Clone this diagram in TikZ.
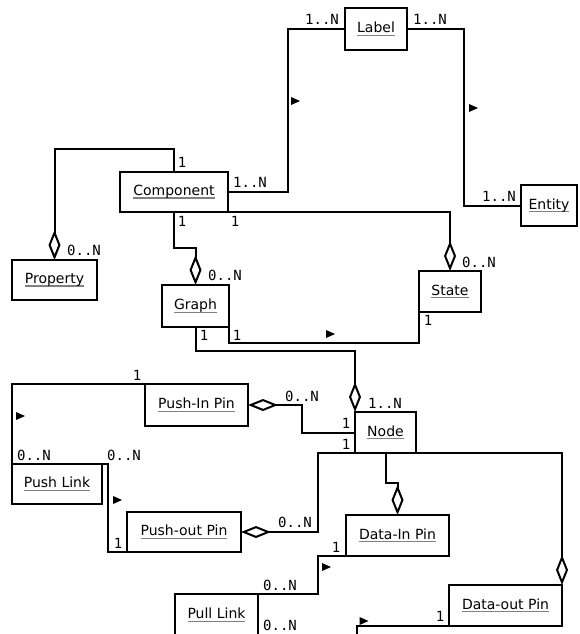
\documentclass[tikz,border=0pt]{standalone}
\usepackage{fontspec}
\setmainfont{DejaVu Sans}
\setmonofont{DejaVu Sans Mono}
\usetikzlibrary{arrows.meta}
\newcommand{\ulbox}[1]{\setbox0\hbox{#1}\leavevmode\rlap{\textcolor{gray}{\rule[-3pt]{\wd0}{1.2pt}}}\box0}
\newcommand{\dirtri}[1]{\fill[shift={(#1)}] (-4.5,-4) -- (4.5,0) -- (-4.5,4) -- cycle;}
\tikzset{
  cls/.style={draw, line width=2pt, inner sep=0pt, outer sep=0pt, font=\fontsize{14}{16}\selectfont},
  link/.style={line width=2pt},
  agg/.style={-{Diamond[open,length=30pt,width=12pt]}},
  aggs/.style={{Diamond[open,length=30pt,width=12pt]}-},
  mult/.style={font=\ttfamily\fontsize{14}{16}\selectfont, inner sep=0pt}
}
\begin{document}
\begin{tikzpicture}[x=1pt,y=-1pt]
\useasboundingbox (0,0) rectangle (580,634);
\clip (0,0) rectangle (580,634);
% classes
\node[cls, minimum width=62pt, minimum height=42pt] (label) at (376,29) {\ulbox{Label}};
\node[cls, minimum width=108pt, minimum height=40pt] (component) at (174,192) {\ulbox{Component}};
\node[cls, minimum width=85pt, minimum height=40pt] (property) at (54.5,280) {\ulbox{Property}};
\node[cls, minimum width=67pt, minimum height=42pt] (graph) at (195.5,306) {\ulbox{Graph}};
\node[cls, minimum width=62pt, minimum height=41pt] (state) at (450,291.5) {\ulbox{State}};
\node[cls, minimum width=56pt, minimum height=41pt] (entity) at (549,205.5) {\ulbox{Entity}};
\node[cls, minimum width=103pt, minimum height=42pt] (pushin) at (196.5,405) {\ulbox{Push-In Pin}};
\node[cls, minimum width=61pt, minimum height=41pt] (nodeb) at (385.5,432.5) {\ulbox{Node}};
\node[cls, minimum width=90pt, minimum height=40pt] (pushlink) at (57,484) {\ulbox{Push Link}};
\node[cls, minimum width=114pt, minimum height=40pt] (pushout) at (184,532) {\ulbox{Push-out Pin}};
\node[cls, minimum width=103pt, minimum height=41pt] (datain) at (397.5,535.5) {\ulbox{Data-In Pin}};
\node[cls, minimum width=113pt, minimum height=41pt] (dataout) at (505.5,605.5) {\ulbox{Data-out Pin}};
\node[cls, minimum width=83pt, minimum height=42pt] (pulllink) at (216.5,615) {\ulbox{Pull Link}};
\coordinate (offb) at (357,660);
% connectors
\draw[link] (component.east) -- ++(60,0) |- (label.west);
\draw[link] (label.east) -- ++(57,0) |- (entity.west);
\draw[link,agg] (component.north) -- ++(0,-23) -| (property.north);
\draw[link,agg] (component.south) -- ++(0,36) -| (graph.north);
\draw[link,agg] (component.south east) -| (state.north);
\draw[link] (graph.south east) -- ++(0,16) -| (state.south west);
\draw[link,agg] (graph.south) -- ++(0,24) -| (nodeb.north west);
\draw[link,aggs] (pushin.east) -- ++(54,0) |- (nodeb.west);
\draw[link] (pushin.north west) -| (pushlink.north west);
\draw[link] (pushlink.north east) -- ++(6,0) |- (pushout.south west);
\draw[link,aggs] (pushout.east) -- ++(77,0) |- (nodeb.south west);
\draw[link,agg] (nodeb.south east) -| (dataout.north east);
\draw[link,agg] (nodeb.south) -- ++(0,30) -| (datain.north);
\draw[link] (datain.south west) -- ++(-28,0) |- (pulllink.north east);
\draw[link] (dataout.south west) -| (offb);
% direction markers
\dirtri{295.5,101}
\dirtri{473.5,108}
\dirtri{330.5,334}
\dirtri{20.5,416}
\dirtri{117.5,500}
\dirtri{326.5,567}
\dirtri{364,621}
% multiplicities
\node[mult] (m1) at (322,19.5) {1..N};
\node[mult] (m2) at (430,19.5) {1..N};
\node[mult] (m3) at (250,182.5) {1..N};
\node[mult] (m4) at (182,162) {1};
\node[mult] (m5) at (499,196) {1..N};
\node[mult] (m6) at (84,250) {0..N};
\node[mult] (m7) at (182,221) {1};
\node[mult] (m8) at (235,221) {1};
\node[mult] (m9) at (225,275.5) {0..N};
\node[mult] (m10) at (479,262) {0..N};
\node[mult] (m11) at (428,320) {1};
\node[mult] (m12) at (204,335) {1};
\node[mult] (m13) at (237,335) {1};
\node[mult] (m14) at (385,403) {1..N};
\node[mult] (m15) at (302,396) {0..N};
\node[mult] (m16) at (346,423) {1};
\node[mult] (m17) at (346,444) {1};
\node[mult] (m18) at (137,375.5) {1};
\node[mult] (m19) at (34,455.5) {0..N};
\node[mult] (m20) at (124,455.5) {0..N};
\node[mult] (m21) at (118,543) {1};
\node[mult] (m22) at (295,522.5) {0..N};
\node[mult] (m23) at (336,547) {1};
\node[mult] (m24) at (280,585.5) {0..N};
\node[mult] (m25) at (280,625.5) {0..N};
\node[mult] (m26) at (440,616.5) {1};
\end{tikzpicture}
\end{document}
